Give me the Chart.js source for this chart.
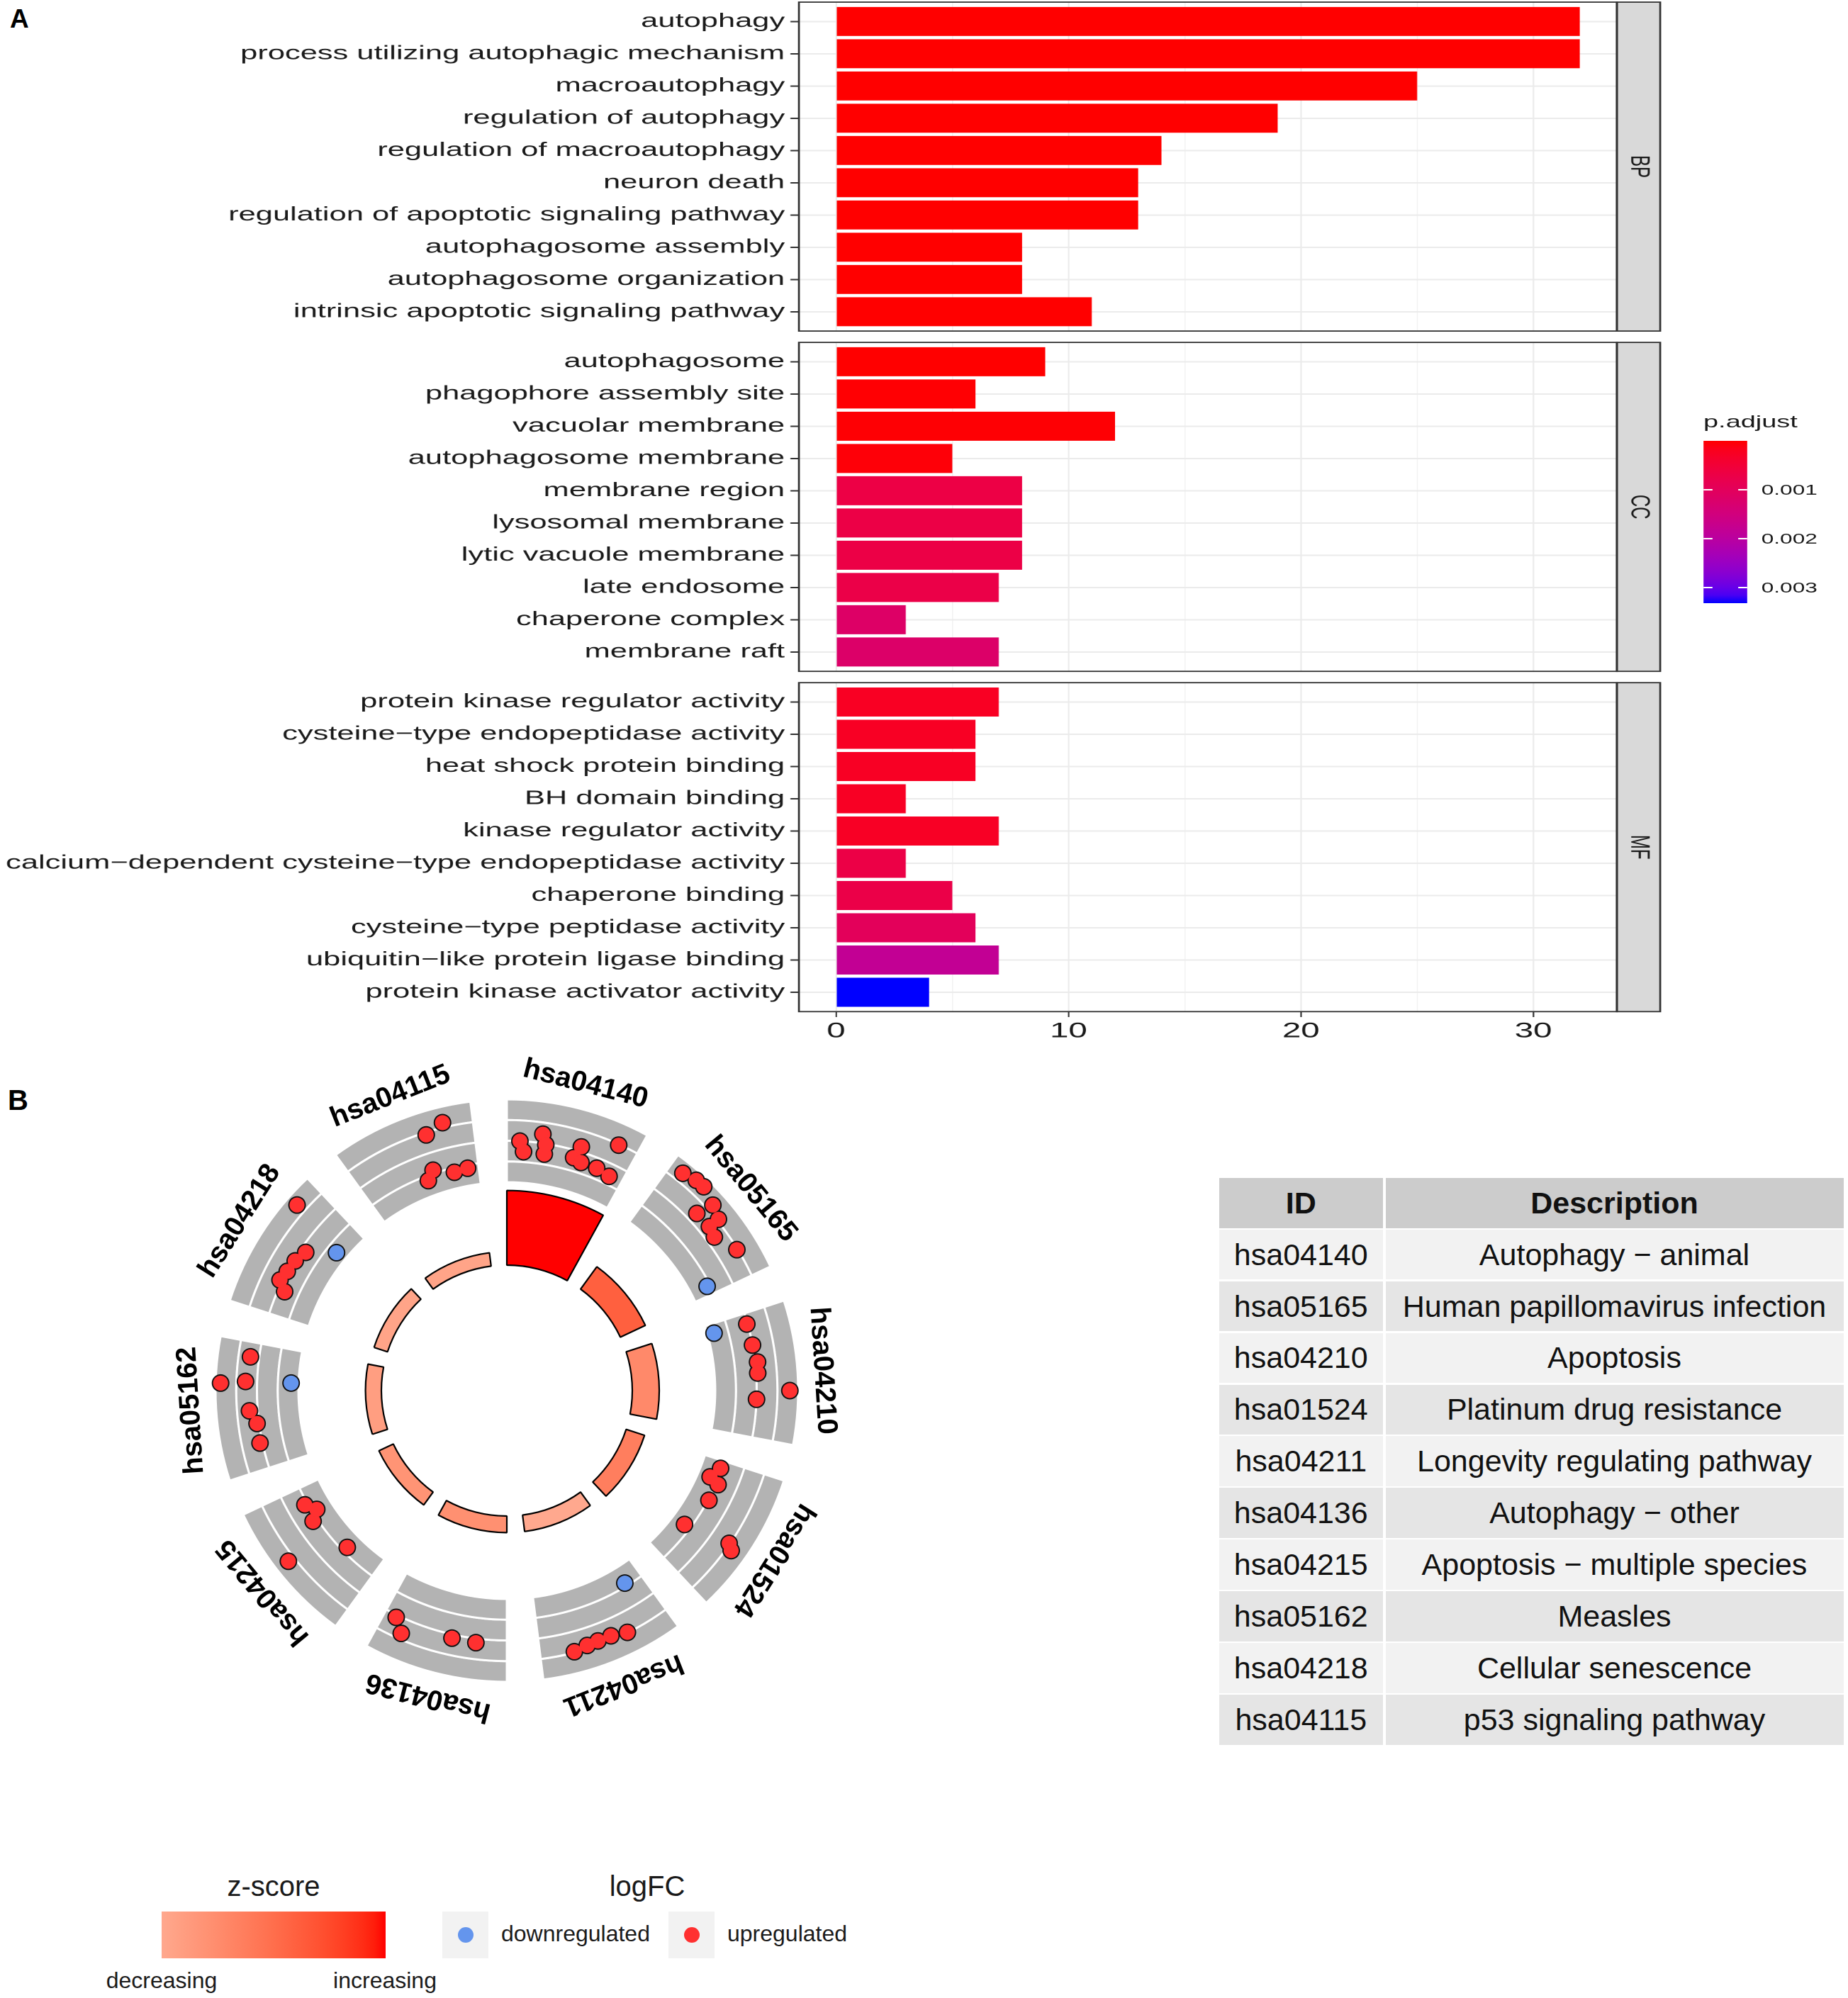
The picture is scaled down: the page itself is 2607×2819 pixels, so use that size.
<!DOCTYPE html>
<html>
<head>
<meta charset="utf-8">
<title>GO enrichment and KEGG GOCircle</title>
<script src="https://cdn.jsdelivr.net/npm/chart.js@4.4.1/dist/chart.umd.min.js"></script>
<style>
  html, body { margin: 0; padding: 0; background: #fff; }
  body { position: relative; width: 2607px; height: 2819px; overflow: hidden;
         font-family: 'Liberation Sans', Arial, sans-serif; color: #1a1a1a; }
  .abs { position: absolute; line-height: 1; white-space: nowrap; }
  .tag { font-weight: bold; color: #000; }
  #panelA { left: 0; top: 0; width: 1650px; height: 1500px; transform: scaleX(1.58); transform-origin: 0 0; }
  .facet { position: absolute; left: 0; width: 1650px; }
  .circle { position: absolute; left: 215px; top: 1462px; width: 1000px; height: 1000px; }
  #termTable { left: 1720px; top: 1662px; display: grid; grid-template-columns: 230.5px 646px;
               column-gap: 4px; row-gap: 2.3px; font-size: 43px; color: #111; }
  #termTable div { height: 70.6px; display: flex; align-items: center; justify-content: center; }
  #termTable .head { background: #CCCCCC; font-weight: bold; }
  .key { background: #F2F2F2; }
  .key span { position: absolute; left: 21.5px; top: 22px; width: 22px; height: 22px; border-radius: 50%; }
</style>
</head>
<body>

<div class="abs tag" style="left:14px;top:8px;font-size:37px">A</div>
<div id="panelA" class="abs">
  <div class="facet" style="top:0;height:475px"><canvas id="chartBP"></canvas></div>
  <div class="facet" style="top:475px;height:480px"><canvas id="chartCC"></canvas></div>
  <div class="facet" style="top:955px;height:545px"><canvas id="chartMF"></canvas></div>
  <div id="padjLegend"></div>
</div>

<div class="abs tag" style="left:11px;top:1532px;font-size:40px">B</div>
<div class="circle"><canvas id="circleBars"></canvas></div>
<div class="circle"><canvas id="circleGenes"></canvas></div>
<div id="termTable" class="abs"></div>

<div class="abs" style="left:186px;top:2641px;width:400px;text-align:center;font-size:40px">z-score</div>
<div id="zBar" class="abs" style="left:228px;top:2697px;width:316px;height:66px"></div>
<div class="abs" style="left:128px;top:2778px;width:200px;text-align:center;font-size:32px">decreasing</div>
<div class="abs" style="left:443px;top:2778px;width:200px;text-align:center;font-size:32px">increasing</div>
<div class="abs" style="left:813px;top:2641px;width:200px;text-align:center;font-size:40px">logFC</div>
<div class="abs key" style="left:624px;top:2697px;width:65px;height:66px"><span id="downKey"></span></div>
<div class="abs" style="left:707px;top:2712px;font-size:32px">downregulated</div>
<div class="abs key" style="left:943px;top:2697px;width:65px;height:66px"><span id="upKey"></span></div>
<div class="abs" style="left:1026px;top:2712px;font-size:32px">upregulated</div>

<script>
// ---------- panel A: GO terms, top to bottom inside each facet
const bpTerms = ['autophagy', 'process utilizing autophagic mechanism', 'macroautophagy',
  'regulation of autophagy', 'regulation of macroautophagy', 'neuron death',
  'regulation of apoptotic signaling pathway', 'autophagosome assembly',
  'autophagosome organization', 'intrinsic apoptotic signaling pathway'];
const bpCounts = [32, 32, 25, 19, 14, 13, 13, 8, 8, 11];
const bpPadj = [1.2e-16, 1.2e-16, 3.5e-13, 8.1e-12, 2.0e-9, 3.6e-8, 4.0e-8, 6.5e-7, 8.0e-7, 2.5e-6];

const ccTerms = ['autophagosome', 'phagophore assembly site', 'vacuolar membrane',
  'autophagosome membrane', 'membrane region', 'lysosomal membrane', 'lytic vacuole membrane',
  'late endosome', 'chaperone complex', 'membrane raft'];
const ccCounts = [9, 6, 12, 5, 8, 8, 8, 7, 3, 7];
const ccPadj = [1.5e-6, 1.4e-5, 2.0e-5, 4.1e-5, 0.00068, 0.00069, 0.00069, 0.00072, 0.00116, 0.00118];

const mfTerms = ['protein kinase regulator activity', 'cysteine\u2212type endopeptidase activity',
  'heat shock protein binding', 'BH domain binding', 'kinase regulator activity',
  'calcium\u2212dependent cysteine\u2212type endopeptidase activity', 'chaperone binding',
  'cysteine\u2212type peptidase activity', 'ubiquitin\u2212like protein ligase binding',
  'protein kinase activator activity'];
const mfCounts = [7, 6, 6, 3, 7, 3, 5, 6, 7, 4];
const mfPadj = [0.00025, 0.00026, 0.00026, 0.00026, 0.00027, 0.0007, 0.00072, 0.00098, 0.00183, 0.00332];

const xTickValues = [0, 10, 20, 30];
const xMinorValues = [5, 15, 25];
const padjBreaks = [0.001, 0.002, 0.003];

// ---------- panel B: KEGG terms (clockwise from the top)
const termIds = ['hsa04140', 'hsa05165', 'hsa04210', 'hsa01524', 'hsa04211',
  'hsa04136', 'hsa04215', 'hsa05162', 'hsa04218', 'hsa04115'];
const termDesc = ['Autophagy \u2212 animal', 'Human papillomavirus infection', 'Apoptosis',
  'Platinum drug resistance', 'Longevity regulating pathway', 'Autophagy \u2212 other',
  'Apoptosis \u2212 multiple species', 'Measles', 'Cellular senescence', 'p53 signaling pathway'];
const termLogP = [10.8, 4.0, 3.9, 2.8, 2.4, 2.4, 2.3, 2.3, 2.05, 1.95];   // -log10 adj. p
const termZ = [3.74, 2.92, 2.24, 2.43, 1.68, 2.13, 2.06, 1.87, 1.76, 1.76];

// genes: x = position round the circle (0-10, one unit per term), y = scaled logFC inside the track
const geneX = [
  0.090, 0.117, 0.219, 0.250, 0.253, 0.472, 0.439, 0.503, 0.617, 0.711, 0.675,   // hsa04140
  1.081, 1.164, 1.217, 1.331, 1.306, 1.414, 1.414, 1.492, 1.628, 1.739,          // hsa05165
  2.069, 2.214, 2.325, 2.389, 2.550, 2.503, 2.075,                               // hsa04210
  3.058, 3.136, 3.164, 3.292, 3.533, 3.481, 3.461,                               // hsa01524
  4.125, 4.603, 4.514, 4.444, 4.356, 4.261,                                      // hsa04211
  5.717, 5.650, 5.350, 5.192,                                                    // hsa04136
  6.675, 6.606, 6.561, 6.261, 6.444,                                             // hsa04215
  7.703, 7.561, 7.544, 7.381, 7.292, 7.164, 7.553,                               // hsa05162
  8.658, 8.456, 8.378, 8.297, 8.217, 8.161, 8.580,                               // hsa04218
  9.517, 9.625, 9.481, 9.436, 9.619, 9.728                                       // hsa04115
];
const geneY = [
  0.50, 0.375, 0.61, 0.49, 0.375, 0.56, 0.41, 0.38, 0.38, 0.35, 0.74,
  0.86, 0.90, 0.905, 0.83, 0.62, 0.63, 0.77, 0.60, 0.74, 0.21,
  0.49, 0.50, 0.53, 0.52, 0.50, 0.90, 0.08,
  0.23, 0.15, 0.275, 0.26, 0.17, 0.81, 0.74,
  0.21, 0.74, 0.71, 0.70, 0.70, 0.745,
  0.53, 0.68, 0.545, 0.55,
  0.285, 0.19, 0.305, 0.185, 0.83,
  0.605, 0.64, 0.94, 0.60, 0.525, 0.53, 0.09,
  0.865, 0.43, 0.48, 0.50, 0.53, 0.42, 0.13,
  0.72, 0.81, 0.29, 0.19, 0.195, 0.21
];
const geneUp = [
  1, 1, 1, 1, 1, 1, 1, 1, 1, 1, 1,
  1, 1, 1, 1, 1, 1, 1, 1, 1, 0,
  1, 1, 1, 1, 1, 1, 0,
  1, 1, 1, 1, 1, 1, 1,
  0, 1, 1, 1, 1, 1,
  1, 1, 1, 1,
  1, 1, 1, 1, 1,
  1, 1, 1, 1, 1, 1, 0,
  1, 1, 1, 1, 1, 1, 0,
  1, 1, 1, 1, 1, 1
];

// ---------- colour helpers (ggplot interpolates gradients in Lab space)
function hexToRgb(h) { const n = parseInt(h.slice(1), 16); return [n >> 16 & 255, n >> 8 & 255, n & 255]; }
function rgbToLab(rgb) {
  const lin = c => { c /= 255; return c <= 0.04045 ? c / 12.92 : Math.pow((c + 0.055) / 1.055, 2.4); };
  const [R, G, B] = rgb.map(lin);
  const X = (0.4124564 * R + 0.3575761 * G + 0.1804375 * B) / 0.95047;
  const Y = 0.2126729 * R + 0.7151522 * G + 0.0721750 * B;
  const Z = (0.0193339 * R + 0.1191920 * G + 0.9503041 * B) / 1.08883;
  const f = t => t > 216 / 24389 ? Math.cbrt(t) : (24389 / 27 * t + 16) / 116;
  const fx = f(X), fy = f(Y), fz = f(Z);
  return [116 * fy - 16, 500 * (fx - fy), 200 * (fy - fz)];
}
function labToCss(lab) {
  const [L, a, b] = lab;
  const fy = (L + 16) / 116, fx = fy + a / 500, fz = fy - b / 200;
  const inv = t => t * t * t > 216 / 24389 ? t * t * t : (116 * t - 16) / (24389 / 27);
  const X = inv(fx) * 0.95047, Y = inv(fy), Z = inv(fz) * 1.08883;
  const R = 3.2404542 * X - 1.5371385 * Y - 0.4985314 * Z;
  const G = -0.9692660 * X + 1.8760108 * Y + 0.0415560 * Z;
  const B = 0.0556434 * X - 0.2040259 * Y + 1.0572252 * Z;
  const enc = c => {
    c = Math.min(1, Math.max(0, c));
    c = c <= 0.0031308 ? 12.92 * c : 1.055 * Math.pow(c, 1 / 2.4) - 0.055;
    return Math.round(c * 255);
  };
  return 'rgb(' + [R, G, B].map(enc).join(',') + ')';
}
function labMix(c1, c2, t) {
  const a = rgbToLab(hexToRgb(c1)), b = rgbToLab(hexToRgb(c2));
  return labToCss(a.map((v, i) => v + (b[i] - v) * t));
}
function gradientCss(dir, colorAt) {
  const stops = [];
  for (let i = 0; i <= 20; i++) stops.push(colorAt(i / 20) + ' ' + (i * 5) + '%');
  return 'linear-gradient(' + dir + ', ' + stops.join(', ') + ')';
}

Chart.defaults.font.family = "'Liberation Sans', Arial, sans-serif";
Chart.defaults.color = '#1a1a1a';

// ---------- panel A
const allPadj = bpPadj.concat(ccPadj, mfPadj);
const pMin = Math.min(...allPadj), pMax = Math.max(...allPadj);
const padjColor = p => labMix('#FF0000', '#0000FF', (p - pMin) / (pMax - pMin));

const PANEL_LEFT = 713.3, PANEL_RIGHT = 1443.7, STRIP_W = 38.6, A_WIDTH = 1650;

const facetFrame = label => ({
  id: 'facetFrame',
  afterDraw(chart) {
    const { ctx, chartArea: a } = chart;
    const h = a.bottom - a.top;
    ctx.save();
    ctx.fillStyle = '#D9D9D9';
    ctx.fillRect(a.right, a.top, STRIP_W, h);
    ctx.strokeStyle = '#333333';
    ctx.lineWidth = 1.8;
    ctx.strokeRect(a.left, a.top, a.right - a.left, h);
    ctx.strokeRect(a.right, a.top, STRIP_W, h);
    ctx.translate(a.right + STRIP_W / 2, a.top + h / 2);
    ctx.rotate(Math.PI / 2);
    ctx.fillStyle = '#1a1a1a';
    ctx.font = "24px 'Liberation Sans', Arial, sans-serif";
    ctx.textAlign = 'center';
    ctx.textBaseline = 'middle';
    ctx.fillText(label, 0, 0);
    ctx.restore();
  }
});

function facetChart(id, label, terms, counts, padj, pad, showX) {
  const xGrid = xTickValues.concat(xMinorValues).sort((a, b) => a - b);
  const isMajor = v => xTickValues.includes(v);
  return new Chart(document.getElementById(id), {
    type: 'bar',
    data: {
      datasets: [{
        data: counts.map((c, i) => ({ x: c, y: i })),
        backgroundColor: padj.map(padjColor),
        borderWidth: 0,
        barPercentage: 0.9,
        categoryPercentage: 1
      }]
    },
    options: {
      indexAxis: 'y',
      responsive: true,
      maintainAspectRatio: false,
      animation: false,
      devicePixelRatio: 2,
      layout: { padding: { top: pad[0], bottom: pad[1], left: 0, right: A_WIDTH - PANEL_RIGHT } },
      plugins: { legend: { display: false }, tooltip: { enabled: false } },
      scales: {
        y: {
          type: 'linear',
          offset: false,
          reverse: true,
          min: -0.6,
          max: terms.length - 0.4,
          afterBuildTicks: s => { s.ticks = terms.map((t, i) => ({ value: i })); },
          // labels sit well inside the panel, so no extra room is needed above or below
          afterFit: s => { s.width = PANEL_LEFT; s.paddingTop = 0; s.paddingBottom = 0; },
          ticks: { autoSkip: false, padding: 5, color: '#1a1a1a', font: { size: 27.5 },
                   callback: v => terms[v] },
          grid: { offset: false, color: '#EBEBEB', lineWidth: 2, tickColor: '#333333', tickLength: 7.6, tickWidth: 2 },
          border: { display: false }
        },
        x: {
          type: 'linear',
          offset: false,
          min: -1.6,
          max: 33.6,
          afterBuildTicks: s => { s.ticks = xGrid.map(v => ({ value: v })); },
          afterFit: s => { s.height = showX ? 45 : 0; s.paddingLeft = 0; s.paddingRight = 0; },
          ticks: {
            display: showX, autoSkip: false, maxRotation: 0, padding: 2, color: '#1a1a1a',
            font: { family: "'Liberation Sans Narrow', 'Liberation Sans', Arial, sans-serif", size: 30 },
            callback: v => isMajor(v) ? String(v) : ''
          },
          grid: {
            color: '#EBEBEB',
            lineWidth: c => isMajor(c.tick.value) ? 1.3 : 0.65,
            drawTicks: showX,
            tickLength: 7.7,
            tickWidth: 1.3,
            tickColor: c => isMajor(c.tick.value) ? '#333333' : 'rgba(0,0,0,0)'
          },
          border: { display: false }
        }
      }
    },
    plugins: [facetFrame(label)]
  });
}

facetChart('chartBP', 'BP', bpTerms, bpCounts, bpPadj, [3, 7.9], false);
facetChart('chartCC', 'CC', ccTerms, ccCounts, ccPadj, [8.1, 7.8], false);
facetChart('chartMF', 'MF', mfTerms, mfCounts, mfPadj, [8.2, 27.7], true);

// p.adjust colour bar
(function () {
  const box = document.getElementById('padjLegend');
  const top = 622, height = 229, left = 1520.9, width = 39.2;
  const add = (html, style) => {
    const d = document.createElement('div');
    d.className = 'abs';
    d.innerHTML = html;
    Object.assign(d.style, style);
    box.appendChild(d);
    return d;
  };
  add('p.adjust', { left: left + 'px', top: '582.7px', fontSize: '24px' });
  add('', { left: left + 'px', top: top + 'px', width: width + 'px', height: height + 'px',
            background: gradientCss('to bottom', t => labMix('#FF0000', '#0000FF', t)) });
  padjBreaks.forEach(b => {
    const y = top + (b - pMin) / (pMax - pMin) * height;
    add(String(b), { left: '1572.6px', top: (y - 9.8) + 'px', fontSize: '20px' });
    add('', { left: left + 'px', top: (y - 0.8) + 'px', width: (width / 5) + 'px', height: '1.6px', background: '#fff' });
    add('', { left: (left + width * 0.8) + 'px', top: (y - 0.8) + 'px', width: (width / 5) + 'px', height: '1.6px', background: '#fff' });
  });
})();

// ---------- panel B: GOCircle
const RAD1 = 2, RAD2 = 3, P_SPAN = 12;          // inner bar base, track base, -log10 p range per unit
const R_MIN = 0.487, R_MAX = 4.761;             // radial limits of the polar frame
const BAR_DEG = 360 / termIds.length * 0.8, GAP_DEG = 360 / termIds.length * 0.2;
const UP_COL = '#FF3030', DOWN_COL = '#6495ED';
const zMax = Math.max(...termZ.map(Math.abs)), zMin = Math.min(...termZ);
const zColor = z => labMix('#FFFFFF', '#FF0000', z / zMax);
const sectors = vals => vals.flatMap(v => [v, null]);   // each term followed by a gap

const radialScale = extra => Object.assign({
  min: R_MIN, max: R_MAX, startAngle: 0, beginAtZero: false,
  ticks: { display: false }, grid: { display: false },
  angleLines: { display: false }, pointLabels: { display: false }
}, extra || {});

// arcs start at their dataset's innerValue instead of the centre
const arcBase = {
  id: 'arcBase',
  afterUpdate(chart) {
    const scale = chart.scales.r;
    chart.data.datasets.forEach((ds, i) => {
      const inner = scale.getDistanceFromCenterForValue(ds.innerValue);
      chart.getDatasetMeta(i).data.forEach(arc => { arc.innerRadius = inner; });
    });
  }
};
const termLabels = {
  id: 'termLabels',
  afterDatasetsDraw(chart) {
    const { ctx } = chart;
    const scale = chart.scales.r;
    const arcs = chart.getDatasetMeta(0).data;
    const r = scale.getDistanceFromCenterForValue(RAD2 + 1.3);
    ctx.save();
    ctx.font = "bold 40px 'Liberation Sans', Arial, sans-serif";
    ctx.fillStyle = '#000';
    ctx.textAlign = 'center';
    ctx.textBaseline = 'middle';
    termIds.forEach((id, i) => {
      const arc = arcs[2 * i];
      const mid = (arc.startAngle + arc.endAngle) / 2;
      ctx.save();
      ctx.translate(scale.xCenter + r * Math.cos(mid), scale.yCenter + r * Math.sin(mid));
      ctx.rotate(mid + Math.PI / 2);
      ctx.fillText(id, 0, 0);
      ctx.restore();
    });
    ctx.restore();
  }
};

const trackBands = [0, 1, 2, 3].map(b => ({
  innerValue: RAD2 + b / 4,
  data: sectors(termIds.map(() => RAD2 + (b + 1) / 4)),
  backgroundColor: '#B3B3B3',
  borderColor: '#FFFFFF',
  borderWidth: 3,
  angle: c => c.dataIndex % 2 ? GAP_DEG : BAR_DEG
}));

new Chart(document.getElementById('circleBars'), {
  type: 'polarArea',
  data: {
    labels: sectors(termIds).map(v => v || ''),
    datasets: [{
      innerValue: RAD1,
      data: sectors(termLogP.map(v => RAD1 + v / P_SPAN)),
      backgroundColor: sectors(termZ.map(zColor)),
      borderColor: '#000000',
      borderWidth: 2.2,
      angle: c => c.dataIndex % 2 ? GAP_DEG : BAR_DEG
    }].concat(trackBands)
  },
  options: {
    responsive: true, maintainAspectRatio: false, animation: false, devicePixelRatio: 2,
    layout: { padding: 0 },
    plugins: { legend: { display: false }, tooltip: { enabled: false } },
    scales: { r: radialScale() }
  },
  plugins: [arcBase, termLabels]
});

// genes: one radar slot per half degree; overlapping slots go to extra datasets
const SLOTS = 720;
function slotSets(indices) {
  const sets = [];
  indices.forEach(g => {
    const slot = Math.round(geneX[g] / 10 * SLOTS) % SLOTS;
    let ds = sets.find(s => s[slot] === null);
    if (!ds) { ds = new Array(SLOTS).fill(null); sets.push(ds); }
    ds[slot] = RAD2 + geneY[g];
  });
  return sets;
}
const allGenes = geneX.map((x, g) => g);
const pointSet = (data, color, radius) => ({
  data, showLine: false, borderWidth: 0, fill: false,
  pointRadius: radius, pointHoverRadius: radius, pointBorderWidth: 0,
  pointBackgroundColor: color
});
const geneDatasets = []
  .concat(slotSets(allGenes.filter(g => geneUp[g])).map(d => pointSet(d, UP_COL, 10.6)))
  .concat(slotSets(allGenes.filter(g => !geneUp[g])).map(d => pointSet(d, DOWN_COL, 10.6)))
  .concat(slotSets(allGenes).map(d => pointSet(d, '#111111', 12.5)));

new Chart(document.getElementById('circleGenes'), {
  type: 'radar',
  data: { labels: new Array(SLOTS).fill(''), datasets: geneDatasets },
  options: {
    responsive: true, maintainAspectRatio: false, animation: false, devicePixelRatio: 2,
    layout: { padding: 0 },
    plugins: { legend: { display: false }, tooltip: { enabled: false } },
    scales: { r: radialScale() }
  }
});

// term table
(function () {
  const table = document.getElementById('termTable');
  const cell = (text, cls, bg) => {
    const d = document.createElement('div');
    d.textContent = text;
    if (cls) d.className = cls;
    if (bg) d.style.background = bg;
    table.appendChild(d);
  };
  cell('ID', 'head');
  cell('Description', 'head');
  termIds.forEach((id, i) => {
    const bg = i % 2 ? '#E5E5E5' : '#F2F2F2';
    cell(id, '', bg);
    cell(termDesc[i], '', bg);
  });
})();

// bottom legends
document.getElementById('zBar').style.background =
  gradientCss('to right', t => zColor(zMin + (zMax - zMin) * t));
document.getElementById('downKey').style.background = DOWN_COL;
document.getElementById('upKey').style.background = UP_COL;
</script>
</body>
</html>
